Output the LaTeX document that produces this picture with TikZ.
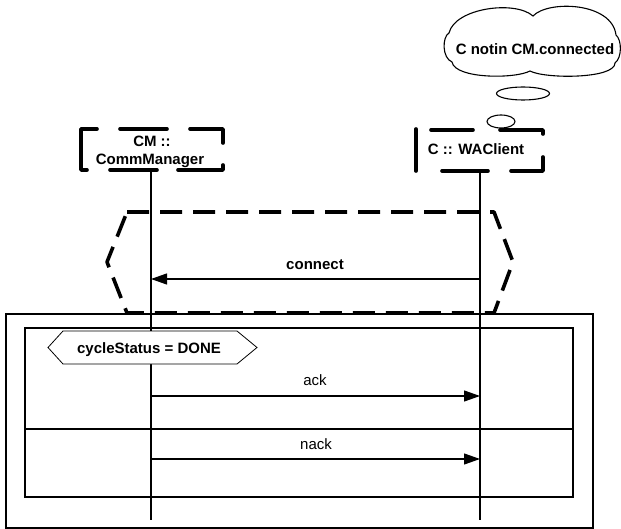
\documentclass[tikz,border=0pt]{standalone}
\usepackage{fontspec}
\setmainfont{Liberation Sans}
\usetikzlibrary{arrows.meta}
\begin{document}
\begin{tikzpicture}[x=1pt,y=-1pt,
  txt/.style={font=\fontsize{15}{18}\selectfont, inner sep=0pt, anchor=base},
  btxt/.style={font=\fontsize{15}{18}\selectfont\bfseries, inner sep=0pt, anchor=base},
  thinline/.style={line width=1.1pt},
  brk/.style={line width=3.6pt, line cap=round, line join=round},
  life/.style={line width=1.2pt},
  msg/.style={line width=1.2pt, -{Triangle[length=16pt,width=11pt]}},
  box/.style={inner sep=0pt, minimum width=142pt, minimum height=41pt}]
\useasboundingbox (0,0) rectangle (621,529);

% combined fragment frames
\draw[thinline] (6,314) rectangle (593,528);
\draw[thinline] (25,328) rectangle (573,497);
\draw[thinline] (25,429) -- (573,429);

% dashed hexagonal region around the connect message
\draw[brk, line cap=butt, dash pattern=on 22pt off 11pt]
  (127,212) -- (494,212) -- (513,262) -- (494,313) -- (127,313) -- (107,262) -- cycle;

% lifeline heads (borders drawn below)
\node[box] (cm) at (151,149.5) {};
\node[box, minimum width=127pt, minimum height=42pt] (wa) at (480,150.5) {};

% lifelines
\coordinate (cmEnd) at (151,520);
\coordinate (waEnd) at (480,520);
\draw[life] (cm.south) -- (cmEnd);
\draw[life] (wa.south) -- (waEnd);

% CM box border
\draw[brk] (87,170) -- (81,170) -- (81,129) -- (97,129);
\draw[brk] (120,129) -- (167,129);
\draw[brk] (190,129) -- (223,129) -- (223,143);
\draw[brk] (223,165) -- (223,170) -- (178,170);
\draw[brk] (157,170) -- (110,170);
\node[btxt] (cmA) at (152,147) {CM ::};
\node[btxt] (cmB) at (150,165) {CommManager};

% WAClient box border
\draw[brk] (416,129) -- (416,171);
\draw[brk] (431,130) -- (473,130);
\draw[brk] (500,130) -- (543,130) -- (543,134);
\draw[brk] (543,157) -- (543,171) -- (511,171);
\draw[brk] (488,171) -- (442,171);
\node[btxt] (waT) at (476,155) {C :: WAClient};

% thought cloud with its trailing bubbles
\draw[thinline, fill=white] (449,33)
  .. controls (455,8) and (515,0) .. (533,16)
  .. controls (548,0) and (612,2) .. (616,35)
  .. controls (622,40) and (622,58) .. (615,63)
  .. controls (615,79) and (545,79) .. (530,71)
  .. controls (515,79) and (455,79) .. (452,62)
  .. controls (442,58) and (442,37) .. (449,33) -- cycle;
\node[btxt] (note) at (535,55) {C notin CM.connected};
\draw[thinline] (523,93.5) ellipse [x radius=26.5, y radius=6.5];
\draw[thinline] (501,121.5) ellipse [x radius=14, y radius=6.5];

% connect message
\coordinate (conS) at (480,279);
\coordinate (conE) at (151,279);
\draw[msg] (conS) -- (conE);
\node[btxt] (conL) at (315,270) {connect};

% state invariant
\draw[line width=0.8pt, fill=white]
  (48,347.5) -- (63,331) -- (237,331) -- (257,347.5) -- (237,364) -- (63,364) -- cycle;
\node[btxt] (cs) at (149,353) {cycleStatus = DONE};

% ack / nack messages
\coordinate (ackS) at (151,396);
\coordinate (ackE) at (480,396);
\draw[msg] (ackS) -- (ackE);
\node[txt] (ackL) at (315,385) {ack};
\coordinate (nackS) at (151,459);
\coordinate (nackE) at (480,459);
\draw[msg] (nackS) -- (nackE);
\node[txt] (nackL) at (316,449) {nack};
\end{tikzpicture}
\end{document}
